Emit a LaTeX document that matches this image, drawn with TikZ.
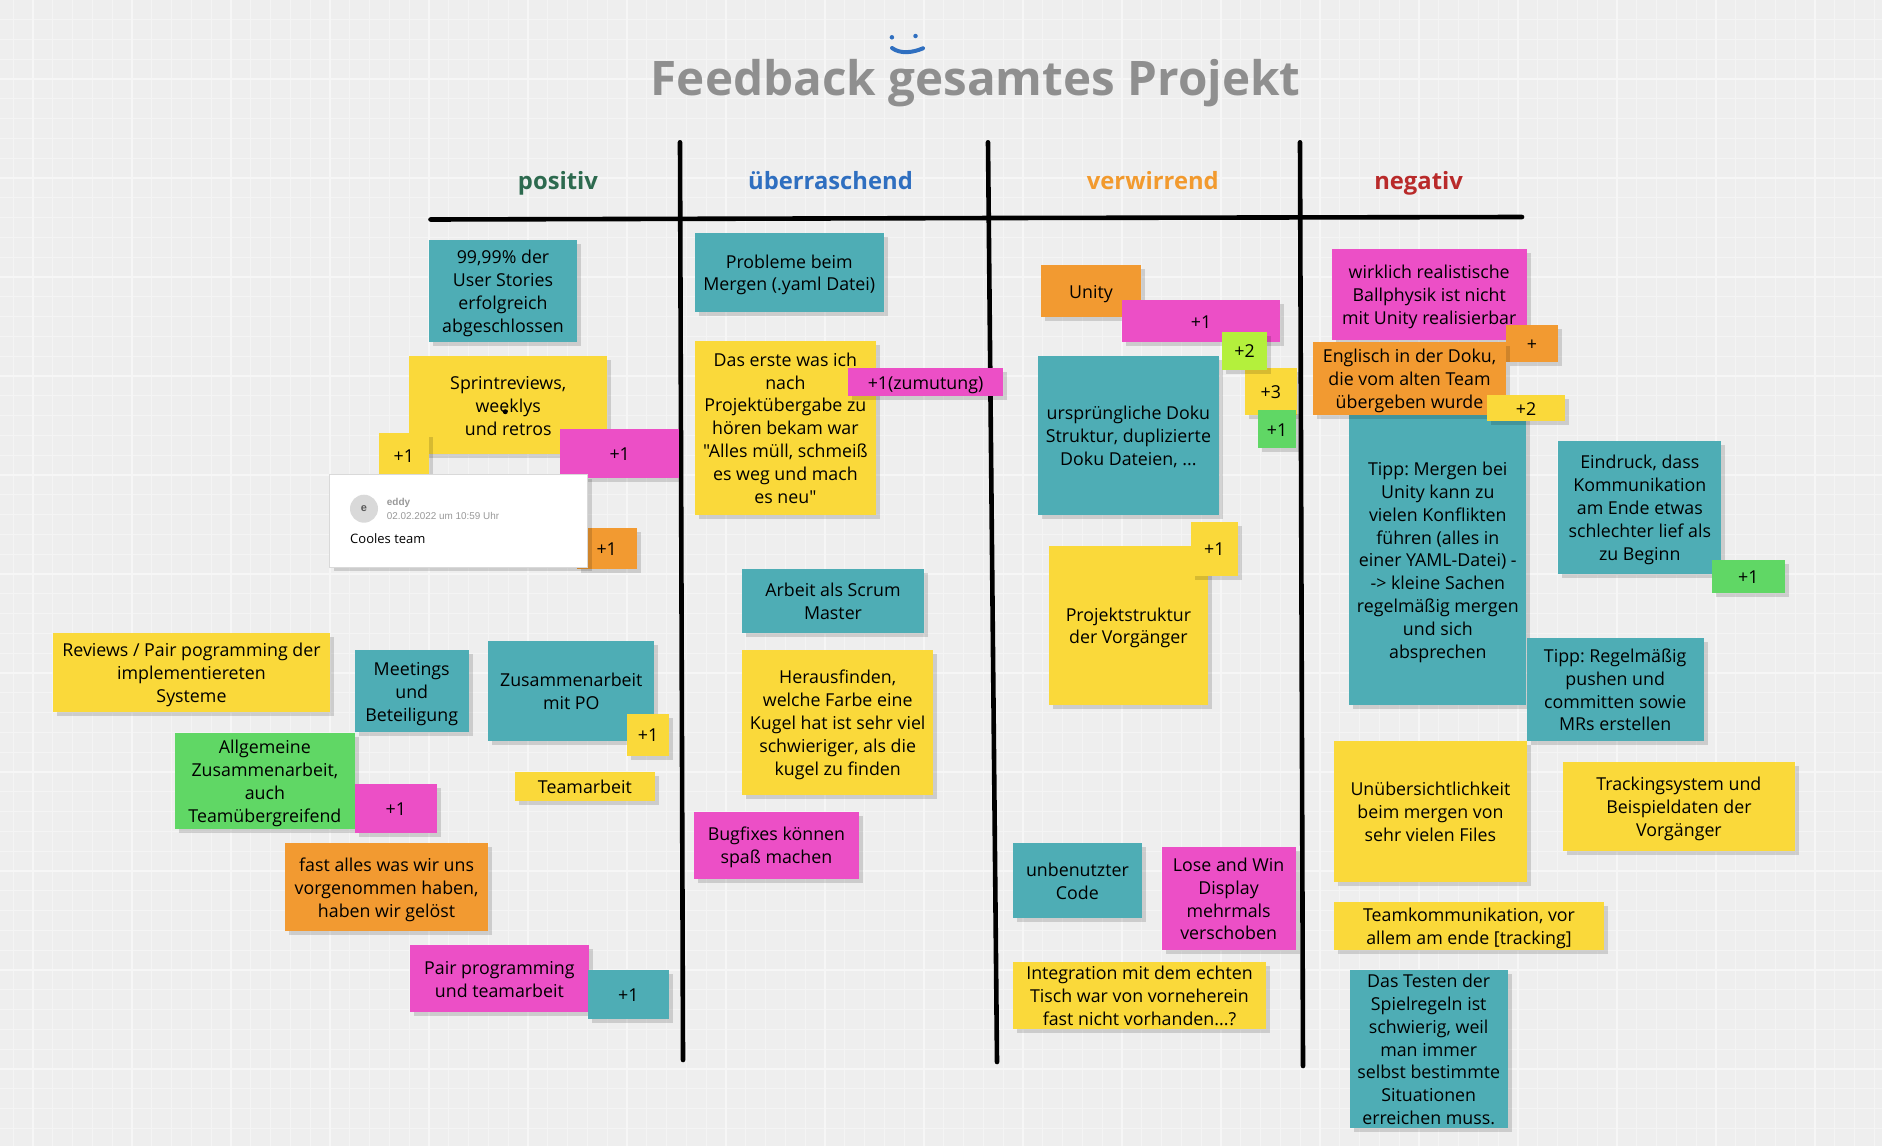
\documentclass[tikz,border=0pt]{standalone}
\usepackage{fontspec}
\setmainfont[Ligatures=TeXOff]{Open Sans}
\newfontfamily\cardfont{Liberation Sans}
\usetikzlibrary{shadows}

\definecolor{boardgray}{HTML}{EEEEEE}
\definecolor{notetealc}{HTML}{4EADB5}
\definecolor{noteyellowc}{HTML}{FAD93A}
\definecolor{notepinkc}{HTML}{EC4FC6}
\definecolor{noteorangec}{HTML}{F29A31}
\definecolor{notegreenc}{HTML}{60D765}
\definecolor{notelimec}{HTML}{B4F03C}
\definecolor{titlegray}{HTML}{8F8F8F}
\definecolor{headgreen}{HTML}{2D6A4F}
\definecolor{headblue}{HTML}{2F6FC0}
\definecolor{headorange}{HTML}{F29A2E}
\definecolor{headred}{HTML}{B92A2A}

\tikzset{
  note/.style={rectangle, align=flush center, inner sep=0pt, text=black,
               font=\fontsize{17.8}{22.8}\selectfont\frenchspacing,
               execute at begin node={\vrule width 0pt height 18.5pt depth 0pt},
               execute at end node={\vrule width 0pt height 0pt depth 4.5pt},
               drop shadow={shadow xshift=4pt, shadow yshift=-4pt, fill=black, opacity=.14}},
  tealnote/.style={note, fill=notetealc},
  yellownote/.style={note, fill=noteyellowc},
  pinknote/.style={note, fill=notepinkc},
  orangenote/.style={note, fill=noteorangec},
  greennote/.style={note, fill=notegreenc},
  limenote/.style={note, fill=notelimec},
  heading/.style={anchor=base, font=\fontsize{23.8}{28}\selectfont\bfseries},
  divider/.style={line width=4.6pt, line cap=round, black},
}

\begin{document}
\begin{tikzpicture}[x=1pt, y=-1pt]
  \useasboundingbox (0,0) rectangle (1882,1146);
  \fill[boardgray] (0,0) rectangle (1882,1146);

  % Board grid
  \begin{scope}[shift={(33,79)}]
    \draw[line width=.8pt, color=white!35!boardgray, xstep=19.8pt, ystep=19.8pt] (-33,-79) grid (1849,1067);
    \draw[line width=1.5pt, color=white!50!boardgray, xstep=99pt, ystep=99pt] (-33,-79) grid (1849,1067);
  \end{scope}

  % Title and smile
  \node[anchor=base, text=titlegray, font=\fontsize{47.6}{56}\selectfont\bfseries] (title) at (975.6,95.5) {Feedback gesamtes Projekt};
  \node[circle, fill=headblue, inner sep=0pt, minimum size=4.5] (eyeleft) at (891.9,37.3) {};
  \node[circle, fill=headblue, inner sep=0pt, minimum size=4.5] (eyeright) at (915.5,36) {};
  \draw[headblue, line width=4pt, line cap=round] (892,48) .. controls (900,54) and (912,53) .. (923,48.3);

  % Column headings
  \node[heading, text=headgreen]  (positiv)  at (558,189)    {positiv};
  \node[heading, text=headblue]   (surprise) at (830.5,189)  {überraschend};
  \node[heading, text=headorange] (confused) at (1152.8,189) {verwirrend};
  \node[heading, text=headred]    (negativ)  at (1418.6,189) {negativ};

  % Table lines
  \draw[divider] (430.5,219.5) -- (1000,218) -- (1522,217);
  \draw[divider] (680,142.3) -- (683,1060);
  \draw[divider] (988,142.3) -- (997,1062);
  \draw[divider] (1300,142.3) -- (1303,1066);

  % positiv
  \node[tealnote, text width=147.4, minimum height=101.7] (stories) at (503,290.8) {99,99\% der\\User Stories\\erfolgreich\\abgeschlossen};
  \node[yellownote, text width=197.7, minimum height=97.7] (sprint) at (508.2,405.2) {Sprintreviews,\\weeklys\\und retros};
  \node[circle, fill=black, inner sep=0pt, minimum size=5] (cursor) at (505.3,411.7) {};
  \node[yellownote, text width=50.3, minimum height=44.6] (sprintone) at (403.9,455) {+1};
  \node[pinknote, text width=119.3, minimum height=49] (sprinttwo) at (619.7,453.2) {+1};
  \node[orangenote, text width=60, minimum height=41] (cardplus) at (606.7,548.2) {+1};
  \node[yellownote, text width=277.8, minimum height=78.4] (reviews) at (191.5,672.5) {Reviews / Pair pogramming der\\implementiereten\\Systeme};
  \node[tealnote, text width=113.7, minimum height=81.7] (meetings) at (411.7,691.2) {Meetings\\und\\Beteiligung};
  \node[tealnote, text width=165.8, minimum height=99.7] (poarbeit) at (571.3,691.2) {Zusammenarbeit\\mit PO};
  \node[yellownote, text width=42.2, minimum height=41.7] (poplus) at (648.1,734.9) {+1};
  \node[yellownote, text width=139.3, minimum height=28.4] (teamarbeit) at (584.9,786.5) {Teamarbeit};
  \node[greennote, text width=179.8, minimum height=96.3] (allgemein) at (264.9,780.9) {Allgemeine\\Zusammenarbeit,\\auch\\Teamübergreifend};
  \node[pinknote, text width=82.1, minimum height=49] (allgplus) at (395.9,808.5) {+1};
  \node[orangenote, text width=203.2, minimum height=87.7] (fastalles) at (386.6,887.2) {fast alles was wir uns\\vorgenommen haben,\\haben wir gelöst};
  \node[pinknote, text width=179.7, minimum height=66.7] (pairprog) at (499.4,978.7) {Pair programming\\und teamarbeit};
  \node[tealnote, text width=81.6, minimum height=49] (pairplus) at (628.4,994.5) {+1};

  % Comment card
  \node[rectangle, fill=white, draw=black!15, line width=.8pt, minimum width=258, minimum height=92.6,
        drop shadow={shadow xshift=4pt, shadow yshift=-4pt, fill=black, opacity=.14}] (card) at (458.7,521) {};
  \node[circle, fill=black!15, inner sep=0pt, minimum size=28, text=black!65, font=\cardfont\fontsize{11}{13}\selectfont\bfseries] (avatar) at (364,508.7) {e};
  \node[anchor=west, inner sep=0pt, text=black!40, font=\cardfont\fontsize{10}{12}\selectfont\bfseries] (cardname) at (386.7,502.7) {eddy};
  \node[anchor=west, inner sep=0pt, text=black!40, font=\cardfont\fontsize{9.9}{12}\selectfont] (carddate) at (386.7,515.5) {02.02.2022 um 10:59 Uhr};
  \node[anchor=base west, inner sep=0pt, font=\fontsize{13}{16}\selectfont] (cardtext) at (350,543.3) {Cooles team};

  % überraschend
  \node[tealnote, text width=188.5, minimum height=78.7] (probleme) at (789.3,272.4) {Probleme beim\\Mergen (.yaml Datei)};
  \node[yellownote, text width=180.8, minimum height=174] (daserste) at (785.4,427.7) {Das erste was ich\\nach\\Projektübergabe zu\\hören bekam war\\"Alles müll, schmeiß\\es weg und mach\\es neu"};
  \node[pinknote, text width=154.9, minimum height=27.4] (zumutung) at (925.5,382) {+1(zumutung)};
  \node[tealnote, text width=182, minimum height=64] (scrum) at (833,601.3) {Arbeit als Scrum\\Master};
  \node[yellownote, text width=190.7, minimum height=144.4] (kugel) at (837.7,722.5) {Herausfinden,\\welche Farbe eine\\Kugel hat ist sehr viel\\schwieriger, als die\\kugel zu finden};
  \node[pinknote, text width=164.2, minimum height=67] (bugfixes) at (776.4,845.2) {Bugfixes können\\spaß machen};

  % verwirrend
  \node[orangenote, text width=100.8, minimum height=51.4] (unity) at (1091,291) {Unity};
  \node[pinknote, text width=158, minimum height=41.7] (unityone) at (1201,321.2) {+1};
  \node[tealnote, text width=180.8, minimum height=158.4] (doku) at (1128.4,435.5) {ursprüngliche Doku\\Struktur, duplizierte\\Doku Dateien, ...};
  \node[yellownote, text width=51.7, minimum height=46.4] (unitythree) at (1270.9,391.5) {+3};
  \node[limenote, text width=45, minimum height=38] (unitytwo) at (1244.5,350.7) {+2};
  \node[greennote, text width=37.1, minimum height=38] (unityfour) at (1277,429) {+1};
  \node[yellownote, text width=158.8, minimum height=158.4] (struktur) at (1128.4,625.5) {Projektstruktur\\der Vorgänger};
  \node[yellownote, text width=46.6, minimum height=53.7] (strukturplus) at (1214.3,548.9) {+1};
  \node[tealnote, text width=128.7, minimum height=74.7] (unbenutzt) at (1077.4,880.7) {unbenutzter\\Code};
  \node[pinknote, text width=134.2, minimum height=102.7] (losewin) at (1228.6,898.7) {Lose and Win\\Display\\mehrmals\\verschoben};
  \node[yellownote, inner ysep=-1pt, text width=252.9, minimum height=67] (integration) at (1139.5,995.5) {Integration mit dem echten\\Tisch war von vorneherein\\fast nicht vorhanden...?};

  % negativ
  \node[tealnote, text width=177, minimum height=289.7] (tippmerge) at (1437.8,559.9) {Tipp: Mergen bei\\Unity kann zu\\vielen Konflikten\\führen (alles in\\einer YAML-Datei) -\\-> kleine Sachen\\regelmäßig mergen\\und sich\\absprechen};
  \node[pinknote, text width=195, minimum height=91.6] (ballphysik) at (1429.2,294.5) {wirklich realistische\\Ballphysik ist nicht\\mit Unity realisierbar};
  \node[orangenote, text width=52, minimum height=37] (ballplus) at (1532,343.5) {+};
  \node[orangenote, text width=193, minimum height=72.7] (englisch) at (1409.5,378.4) {Englisch in der Doku,\\die vom alten Team\\übergeben wurde};
  \node[yellownote, text width=78, minimum height=26.3] (englischplus) at (1526,408.2) {+2};
  \node[tealnote, text width=163, minimum height=133.3] (eindruck) at (1639.8,507.4) {Eindruck, dass\\Kommunikation\\am Ende etwas\\schlechter lief als\\zu Beginn};
  \node[greennote, text width=73.3, minimum height=33] (eindruckplus) at (1748.4,576.5) {+1};
  \node[tealnote, text width=177, minimum height=102.7] (tipppush) at (1615.2,689.7) {Tipp: Regelmäßig\\pushen und\\committen sowie\\MRs erstellen};
  \node[yellownote, text width=192.7, minimum height=140.4] (files) at (1430.4,811.5) {Unübersichtlichkeit\\beim mergen von\\sehr vielen Files};
  \node[yellownote, text width=231.7, minimum height=88.7] (tracking) at (1678.9,806.7) {Trackingsystem und\\Beispieldaten der\\Vorgänger};
  \node[yellownote, text width=270, minimum height=47.7] (teamkomm) at (1469,925.9) {Teamkommunikation, vor\\allem am ende [tracking]};
  \node[tealnote, inner ysep=-1pt, text width=158, minimum height=158] (testen) at (1428.7,1049) {Das Testen der\\Spielregeln ist\\schwierig, weil\\man immer\\selbst bestimmte\\Situationen\\erreichen muss.};
\end{tikzpicture}
\end{document}
